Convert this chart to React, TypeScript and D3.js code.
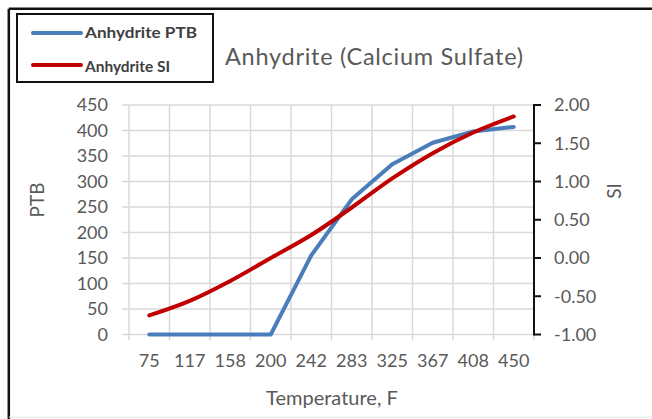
import React from "react";
import * as d3 from "d3";

const categories = ["75", "117", "158", "200", "242", "283", "325", "367", "408", "450"];
const ptbValues = [0, 0, 0, 0, 155, 265, 334, 376, 398, 407];
const siValues = [-0.75, -0.56, -0.3, 0.0, 0.3, 0.66, 1.04, 1.37, 1.64, 1.85];
const leftTicks = [0, 50, 100, 150, 200, 250, 300, 350, 400, 450];
const rightTicks = [-1, -0.5, 0, 0.5, 1, 1.5, 2];

const FONT = "Lato, 'Open Sans', sans-serif";
const GRAY = "#595959";

export default function App() {
  const W = 652, H = 419;
  const left = 129, right = 534, top = 105, bottom = 334.5;
  const x = d3.scaleBand<string>().domain(categories).range([left, right]).padding(0);
  const cx = (c: string) => (x(c) as number) + x.bandwidth() / 2;
  const yL = d3.scaleLinear().domain([0, 450]).range([bottom, top]);
  const yR = d3.scaleLinear().domain([-1, 2]).range([bottom, top]);

  const ptbLine = d3.line<number>().x((_, i) => cx(categories[i])).y((d) => yL(d));
  const siLine = d3
    .line<number>()
    .x((_, i) => cx(categories[i]))
    .y((d) => yR(d))
    .curve(d3.curveMonotoneX);

  const boundaries = categories.map((c) => x(c) as number).concat([right]);

  return (
    <svg width={W} height={H} style={{ position: "absolute", left: 0, top: 0, background: "#fff" }}>
      <rect x={0} y={0} width={W} height={H} fill="#fff" />
      {/* outer border */}
      <line x1={8.8} y1={8.8} x2={W} y2={8.8} stroke="#111" strokeWidth={2.5} />
      <line x1={8.8} y1={8.8} x2={8.8} y2={H} stroke="#111" strokeWidth={2.5} />
      <line x1={8.8} y1={417} x2={W} y2={417} stroke="#e6e6e6" strokeWidth={1} />

      {/* horizontal gridlines */}
      {leftTicks.map((t) => (
        <line key={"h" + t} x1={left - 7} x2={right} y1={yL(t)} y2={yL(t)} stroke="#d9d9d9" strokeWidth={1.5} />
      ))}
      {/* vertical gridlines */}
      {boundaries.map((b, i) => (
        <line key={"v" + i} x1={b} x2={b} y1={top} y2={bottom + 6} stroke="#d9d9d9" strokeWidth={1.5} />
      ))}

      {/* left tick labels */}
      {leftTicks.map((t) => (
        <text key={"lt" + t} x={108} y={yL(t)} dy="0.35em" textAnchor="end" fontFamily={FONT} fontSize={18} fill={GRAY}>
          {t}
        </text>
      ))}
      {/* right axis */}
      <line x1={right} x2={right} y1={top - 1} y2={bottom + 1} stroke="#111" strokeWidth={2} />
      {rightTicks.map((t) => (
        <g key={"rt" + t}>
          <line x1={right} x2={right + 7} y1={yR(t)} y2={yR(t)} stroke="#111" strokeWidth={2} />
          <text x={554} y={yR(t)} dy="0.35em" textAnchor="start" fontFamily={FONT} fontSize={18} fill={GRAY}>
            {t < 0 ? "-" + Math.abs(t).toFixed(2) : t.toFixed(2)}
          </text>
        </g>
      ))}
      {/* x tick labels */}
      {categories.map((c) => (
        <text key={"xc" + c} x={cx(c)} y={361} dy="0.35em" textAnchor="middle" fontFamily={FONT} fontSize={18} fill={GRAY}>
          {c}
        </text>
      ))}

      {/* series */}
      <path d={ptbLine(ptbValues) || ""} fill="none" stroke="#4a7ebb" strokeWidth={4} strokeLinejoin="round" strokeLinecap="round" />
      <path d={siLine(siValues) || ""} fill="none" stroke="#c00000" strokeWidth={4} strokeLinejoin="round" strokeLinecap="round" />

      {/* axis titles */}
      <text transform="translate(44,200) rotate(-90)" textAnchor="middle" fontFamily={FONT} fontSize={19} fill={GRAY}>
        PTB
      </text>
      <text transform="translate(621,191) rotate(-90)" textAnchor="middle" fontFamily={FONT} fontSize={19} fill={GRAY}>
        SI
      </text>
      <text x={332} y={398} dy="0.35em" textAnchor="middle" fontFamily={FONT} fontSize={20} fill={GRAY}>
        Temperature, F
      </text>

      {/* title */}
      <text x={225} y={57} dy="0.35em" textAnchor="start" fontFamily={FONT} fontSize={23.5} fill={GRAY} textLength={298} lengthAdjust="spacing">
        Anhydrite (Calcium Sulfate)
      </text>

      {/* legend */}
      <rect x={17} y={14} width={196} height={68} fill="#fff" stroke="#111" strokeWidth={2} />
      <line x1={33} x2={81} y1={33} y2={33} stroke="#4a7ebb" strokeWidth={4} strokeLinecap="round" />
      <text x={85} y={33} dy="0.35em" fontFamily={FONT} fontSize={15} fontWeight="bold" fill="#404040" textLength={112} lengthAdjust="spacingAndGlyphs">
        Anhydrite PTB
      </text>
      <line x1={33} x2={81} y1={65} y2={65} stroke="#c00000" strokeWidth={4} strokeLinecap="round" />
      <text x={85} y={67} dy="0.35em" fontFamily={FONT} fontSize={15} fontWeight="bold" fill="#404040" textLength={85} lengthAdjust="spacingAndGlyphs">
        Anhydrite SI
      </text>
    </svg>
  );
}
